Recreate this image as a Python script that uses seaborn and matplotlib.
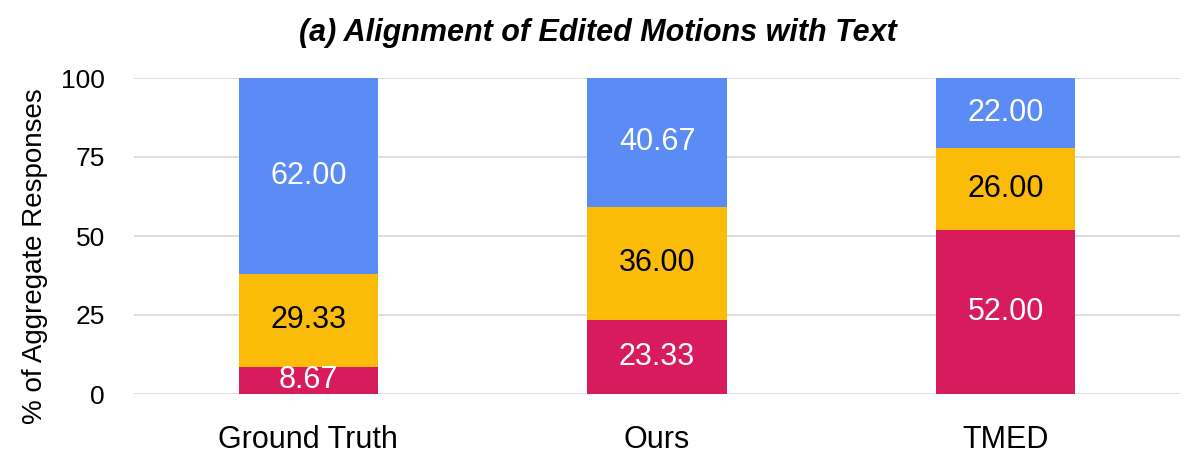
import matplotlib
matplotlib.use("Agg")
import matplotlib.pyplot as plt
import numpy as np
import pandas as pd
import seaborn as sns

categories = ["Ground Truth", "Ours", "TMED"]
red_vals = [8.67, 23.33, 52.00]
yellow_vals = [29.33, 36.00, 26.00]
blue_vals = [62.00, 40.67, 22.00]

red_c = "#D81B5C"
yellow_c = "#FBBC09"
blue_c = "#5B8BF5"

sns.set_theme(style="white")
plt.rcParams["font.family"] = ["Liberation Sans", "DejaVu Sans"]
plt.rcParams["text.color"] = "black"
plt.rcParams["xtick.color"] = "black"
plt.rcParams["ytick.color"] = "black"

df = pd.DataFrame({"cat": categories, "red": red_vals,
                   "yellow": yellow_vals, "blue": blue_vals})
df["lvl1"] = df.red
df["lvl2"] = df.red + df.yellow
df["lvl3"] = df.red + df.yellow + df.blue

fig = plt.figure(figsize=(11.96, 4.72), dpi=100)
ax = fig.add_axes([134 / 1196, 1 - 394 / 472, (1180 - 134) / 1196, (394 - 78) / 472])

# stacked look: draw the cumulative totals, largest first
for lvl, col in [("lvl3", blue_c), ("lvl2", yellow_c), ("lvl1", red_c)]:
    sns.barplot(data=df, x="cat", y=lvl, color=col, width=0.4,
                saturation=1, ax=ax, zorder=3, linewidth=0, edgecolor="none")

for i, row in df.iterrows():
    segs = [(0, row.red, "white"), (row.lvl1, row.yellow, "black"),
            (row.lvl2, row.blue, "white")]
    for base, h, tc in segs:
        ax.text(i, base + h / 2, f"{h:.2f}", ha="center", va="center",
                color=tc, fontsize=22, zorder=4)

ax.set_ylim(0, 100)
ax.set_xlim(-0.5, 2.5)
ax.set_yticks([0, 25, 50, 75, 100])
ax.yaxis.grid(True, color="#d9d9d9", linewidth=1.2, zorder=0)
ax.set_axisbelow(True)
for s in ax.spines.values():
    s.set_visible(False)
ax.tick_params(axis="y", labelsize=19, length=0, pad=21)
ax.tick_params(axis="x", labelsize=22, length=0, pad=22)
ax.set_xlabel("")
ax.set_ylabel("")

fig.text(35 / 1196, 1 - 256 / 472, "% of Aggregate Responses", rotation=90,
         ha="center", va="center", fontsize=20)

fig.text(0.5, 1 - 33 / 472, "(a) Alignment of Edited Motions with Text",
         ha="center", va="center", fontsize=22, fontweight="bold",
         fontstyle="italic")

fig.savefig("out.png", dpi=100)
